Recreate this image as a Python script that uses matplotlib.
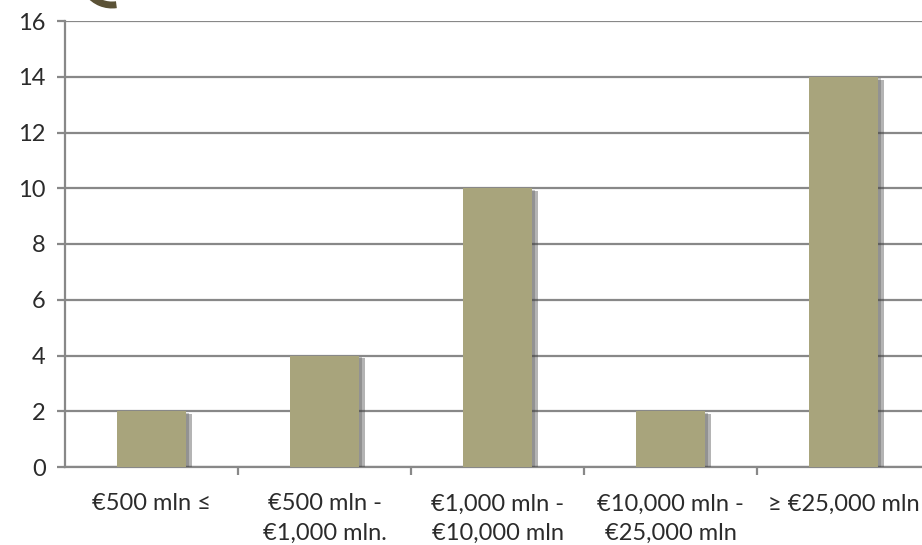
import matplotlib
matplotlib.use("Agg")
import matplotlib.pyplot as plt
import matplotlib.patheffects as pe
from matplotlib.patches import Arc

categories = ["€500 mln ≤", "€500 mln -\n€1,000 mln.", "€1,000 mln -\n€10,000 mln",
              "€10,000 mln -\n€25,000 mln", "≥ €25,000 mln"]
values = [2, 4, 10, 2, 14]
yticks = [0, 2, 4, 6, 8, 10, 12, 14, 16]

plt.rcParams['font.family'] = ['Lato', 'DejaVu Sans']

fig = plt.figure(figsize=(9.22, 5.45), dpi=100)
ax = fig.add_axes([65/922, (545-467)/545, 865/922, (467-21)/545])

x = list(range(len(categories)))
bars = ax.bar(x, values, width=0.4, color="#A8A47C", zorder=3)
for b in bars:
    b.set_path_effects([pe.SimplePatchShadow(offset=(4, -2), shadow_rgbFace="#444444", alpha=0.4),
                        pe.SimplePatchShadow(offset=(2, -1), shadow_rgbFace="#444444", alpha=0.3),
                        pe.Normal()])

ax.set_xlim(-0.5, 4.5)
ax.set_ylim(0, 16)
ax.set_yticks(yticks)
ax.grid(axis="y", color="#888888", linewidth=1.6, zorder=0)
ax.set_axisbelow(True)
for s in ["top", "right"]:
    ax.spines[s].set_visible(False)
for s in ["left", "bottom"]:
    ax.spines[s].set_color("#888888")
    ax.spines[s].set_linewidth(1.6)

ax.set_xticks([i + 0.5 for i in x[:-1]], minor=False)
ax.set_xticklabels([])
ax.set_xticks(x, minor=True)
ax.set_xticklabels(categories, minor=True, fontsize=17, color="#2b2b2b", linespacing=1.5)
ax.tick_params(axis="x", which="major", length=6, width=1.6, color="#888888")
ax.tick_params(axis="x", which="minor", length=0, pad=19)
ax.tick_params(axis="y", length=6, width=1.6, color="#888888", labelsize=17,
               labelcolor="#2b2b2b", pad=8)

# decorative arc at top-left
fig.patches.append(Arc((112/922, 1 + 25/545), 60/922, 60/545, theta1=232, theta2=275,
                       transform=fig.transFigure, color="#5B5236", linewidth=5))

fig.savefig("out.png", dpi=100)
